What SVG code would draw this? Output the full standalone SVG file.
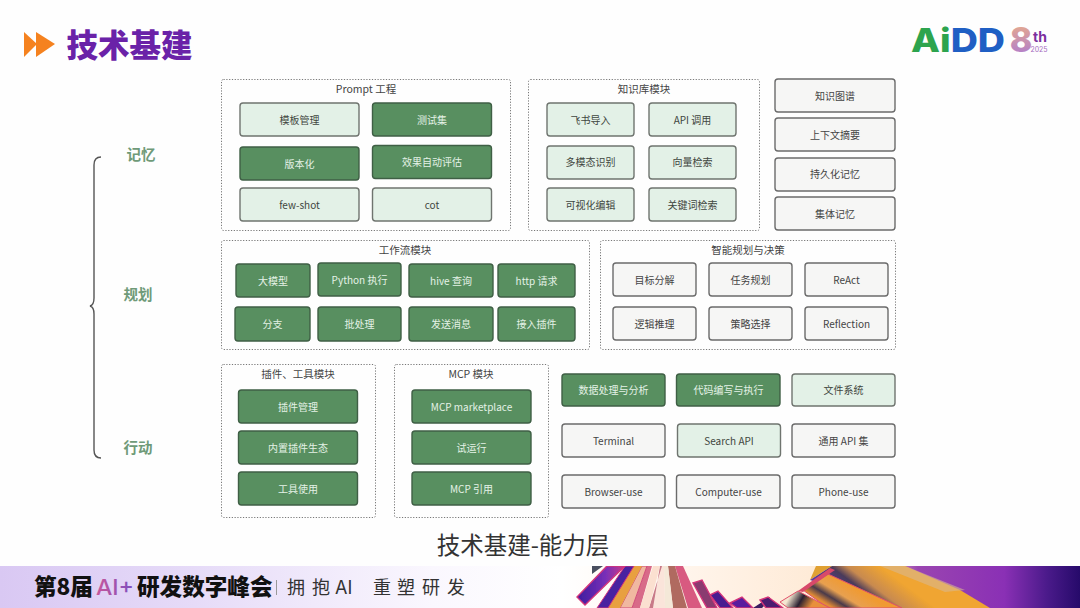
<svg xmlns="http://www.w3.org/2000/svg" width="1080" height="608" viewBox="0 0 1080 608">
<style>
text{font-family:"Noto Sans CJK SC","Noto Sans",sans-serif;text-anchor:middle}
.panel{fill:#fefefe;stroke:#777;stroke-width:1;stroke-dasharray:1.2 1.6}
.pt{font-size:10.500px;fill:#444}
.b rect{stroke-width:1.400}
.b text{font-size:10px}
.l rect{fill:#e3f1e7;stroke:#6f746f}
.l text{fill:#3f4640}
.d rect{fill:#588f60;stroke:#3f5f45}
.d text{fill:#e4f2e6}
.g rect{fill:#f6f6f5;stroke:#6b6b6b}
.g text{fill:#444}
.side{font-size:14.500px;font-weight:700;fill:#6f9a78}
.blade{stroke:#d4357a;stroke-width:1.400}
.ft{text-anchor:start;fill:#111;font-weight:900;font-size:22.600px}
</style>
<defs>
<linearGradient id="foot" x1="0" x2="1" y1="0" y2="0">
<stop offset="0" stop-color="#d9c8f3"/><stop offset=".18" stop-color="#e6dbf8"/><stop offset=".4" stop-color="#faf7fe"/><stop offset=".52" stop-color="#ffffff"/><stop offset=".7" stop-color="#ffefe0"/><stop offset=".8" stop-color="#fde7cf"/><stop offset=".85" stop-color="#9a45b0"/><stop offset=".93" stop-color="#8a30b5"/><stop offset=".97" stop-color="#4a1a8a"/><stop offset="1" stop-color="#260a6a"/>
</linearGradient>
<linearGradient id="aig" x1="0" x2="1"><stop offset="0" stop-color="#c9569a"/><stop offset="1" stop-color="#7c4fc0"/></linearGradient>
<linearGradient id="eight" x1="0" x2="0" y1="0" y2="1"><stop offset="0" stop-color="#eeb184"/><stop offset="1" stop-color="#a876d6"/></linearGradient>
<linearGradient id="bigo" gradientUnits="userSpaceOnUse" x1="835" y1="575" x2="815" y2="608"><stop offset="0" stop-color="#f09a30"/><stop offset=".35" stop-color="#e8a050"/><stop offset=".55" stop-color="#4a3a4a"/><stop offset=".75" stop-color="#e08a35"/><stop offset="1" stop-color="#f09a30"/></linearGradient>
<linearGradient id="topo" gradientUnits="userSpaceOnUse" x1="880" y1="566" x2="850" y2="606"><stop offset="0" stop-color="#f0a530"/><stop offset=".4" stop-color="#c88a50"/><stop offset=".6" stop-color="#4a3a5a"/><stop offset="1" stop-color="#5a3aa0"/></linearGradient>
<linearGradient id="purp" x1="0" x2="1" y1="0" y2="0"><stop offset="0" stop-color="#3c1c9e"/><stop offset=".6" stop-color="#7a2fb8"/><stop offset="1" stop-color="#c83a88"/></linearGradient>
<linearGradient id="cream" gradientUnits="userSpaceOnUse" x1="790" y1="596" x2="810" y2="608"><stop offset="0" stop-color="#f4e6d0"/><stop offset=".5" stop-color="#2a2030"/><stop offset="1" stop-color="#e8903a"/></linearGradient>
<clipPath id="footclip"><rect y="566" width="1080" height="42"/></clipPath>
<filter id="soft" x="-5%" y="-5%" width="110%" height="110%"><feGaussianBlur stdDeviation=".6"/></filter>
</defs>
<rect width="1080" height="608" fill="#fefefe"/>

<g id="title">
<polygon points="24,32 37,44 24,57" fill="#f5821f"/><polygon points="36,32 55,44 36,57" fill="#f5821f"/>
<text x="129.500" y="57" style="font-size:31.500px;font-weight:900;fill:#6a22a8">技术基建</text>
</g>
<g id="logo">
<text x="958" y="52" textLength="94" lengthAdjust="spacingAndGlyphs" style="font-family:Inter,sans-serif;font-size:33px;font-weight:800;fill:#1f5fc4"><tspan fill="#2da44e">Ai</tspan>DD</text>
<text x="1021" y="52" style="font-family:Inter,sans-serif;font-size:34px;font-weight:800;fill:url(#eight)">8</text>
<text x="1040" y="42" style="font-family:Inter,sans-serif;font-size:14px;font-weight:700;fill:#7b2f9e">th</text>
<text x="1039" y="52" style="font-family:Inter,sans-serif;font-size:7px;fill:#a66cc0">2025</text>
</g>

<g id="connectors">
<path d="M101 157Q94 157 94 165L94 298Q94 305 90 306Q94 307 94 314L94 450Q94 458 101 458" fill="none" stroke="#555" stroke-width="1.400"/>
</g>
<g id="side-labels">
<text class="side" x="141" y="160">记忆</text>
<text class="side" x="138" y="300">规划</text>
<text class="side" x="138" y="453">行动</text>
</g>

<g id="panel-prompt"><rect class="panel" x="221.500" y="79.500" width="289" height="151" rx="2"/><text class="pt" x="366" y="93">Prompt 工程</text></g>
<g id="n1" class="b l"><rect x="240" y="103" width="119" height="33" rx="3"/><text x="299.500" y="124">模板管理</text></g>
<g id="n2" class="b d"><rect x="372.500" y="103" width="119" height="33" rx="3"/><text x="432" y="124">测试集</text></g>
<g id="n3" class="b d"><rect x="240" y="147" width="119" height="33" rx="3"/><text x="299.500" y="168">版本化</text></g>
<g id="n4" class="b d"><rect x="372.500" y="145.500" width="119" height="33" rx="3"/><text x="432" y="166">效果自动评估</text></g>
<g id="n5" class="b l"><rect x="240" y="188" width="119" height="33" rx="3"/><text x="299.500" y="209">few-shot</text></g>
<g id="n6" class="b l"><rect x="372.500" y="188" width="119" height="33" rx="3"/><text x="432" y="209">cot</text></g>

<g id="panel-kb"><rect class="panel" x="528.500" y="79.500" width="231" height="151" rx="2"/><text class="pt" x="644" y="93">知识库模块</text></g>
<g id="n7" class="b l"><rect x="547" y="103" width="87" height="33" rx="3"/><text x="590.500" y="124">飞书导入</text></g>
<g id="n8" class="b l"><rect x="649" y="103" width="87" height="33" rx="3"/><text x="692.500" y="124">API 调用</text></g>
<g id="n9" class="b l"><rect x="547" y="146" width="87" height="33" rx="3"/><text x="590.500" y="166">多模态识别</text></g>
<g id="n10" class="b l"><rect x="649" y="146" width="87" height="33" rx="3"/><text x="692.500" y="166">向量检索</text></g>
<g id="n11" class="b l"><rect x="547" y="188" width="87" height="33" rx="3"/><text x="590.500" y="209">可视化编辑</text></g>
<g id="n12" class="b l"><rect x="649" y="188" width="87" height="33" rx="3"/><text x="692.500" y="209">关键词检索</text></g>

<g id="n13" class="b g"><rect x="775" y="79" width="120" height="33" rx="3"/><text x="835" y="100">知识图谱</text></g>
<g id="n14" class="b g"><rect x="775" y="118" width="120" height="33" rx="3"/><text x="835" y="139">上下文摘要</text></g>
<g id="n15" class="b g"><rect x="775" y="158" width="120" height="33" rx="3"/><text x="835" y="178">持久化记忆</text></g>
<g id="n16" class="b g"><rect x="775" y="197" width="120" height="33" rx="3"/><text x="835" y="218">集体记忆</text></g>

<g id="panel-workflow"><rect class="panel" x="221.500" y="240.500" width="368" height="109" rx="2"/><text class="pt" x="405" y="254">工作流模块</text></g>
<g id="n17" class="b d"><rect x="236" y="264" width="74" height="33" rx="3"/><text x="273" y="285">大模型</text></g>
<g id="n18" class="b d"><rect x="318" y="263" width="83" height="33" rx="3"/><text x="359.500" y="284">Python 执行</text></g>
<g id="n19" class="b d"><rect x="409" y="264" width="84" height="33" rx="3"/><text x="451" y="285">hive 查询</text></g>
<g id="n20" class="b d"><rect x="498" y="264" width="77" height="33" rx="3"/><text x="536.500" y="285">http 请求</text></g>
<g id="n21" class="b d"><rect x="235" y="307" width="75" height="34" rx="3"/><text x="272.500" y="328">分支</text></g>
<g id="n22" class="b d"><rect x="318" y="307" width="83" height="34" rx="3"/><text x="359.500" y="328">批处理</text></g>
<g id="n23" class="b d"><rect x="409" y="307" width="84" height="34" rx="3"/><text x="451" y="328">发送消息</text></g>
<g id="n24" class="b d"><rect x="498" y="307" width="77" height="34" rx="3"/><text x="536.500" y="328">接入插件</text></g>

<g id="panel-planning"><rect class="panel" x="600.500" y="240.500" width="295" height="109" rx="2"/><text class="pt" x="748" y="254">智能规划与决策</text></g>
<g id="n25" class="b g"><rect x="613" y="263" width="83" height="33" rx="3"/><text x="654.500" y="284">目标分解</text></g>
<g id="n26" class="b g"><rect x="709" y="263" width="83" height="33" rx="3"/><text x="750.500" y="284">任务规划</text></g>
<g id="n27" class="b g"><rect x="805" y="263" width="83" height="33" rx="3"/><text x="846.500" y="284">ReAct</text></g>
<g id="n28" class="b g"><rect x="613" y="307" width="83" height="33" rx="3"/><text x="654.500" y="328">逻辑推理</text></g>
<g id="n29" class="b g"><rect x="709" y="307" width="83" height="33" rx="3"/><text x="750.500" y="328">策略选择</text></g>
<g id="n30" class="b g"><rect x="805" y="307" width="83" height="33" rx="3"/><text x="846.500" y="328">Reflection</text></g>

<g id="panel-plugins"><rect class="panel" x="221.500" y="364.500" width="154" height="153" rx="2"/><text class="pt" x="298" y="378">插件、工具模块</text></g>
<g id="n31" class="b d"><rect x="238.500" y="390" width="119" height="33" rx="3"/><text x="298" y="411">插件管理</text></g>
<g id="n32" class="b d"><rect x="238.500" y="431" width="119" height="33" rx="3"/><text x="298" y="452">内置插件生态</text></g>
<g id="n33" class="b d"><rect x="238.500" y="472" width="119" height="33" rx="3"/><text x="298" y="493">工具使用</text></g>

<g id="panel-mcp"><rect class="panel" x="394.500" y="364.500" width="154" height="153" rx="2"/><text class="pt" x="471" y="378">MCP 模块</text></g>
<g id="n34" class="b d"><rect x="412" y="390" width="119" height="33" rx="3"/><text x="471.500" y="411">MCP marketplace</text></g>
<g id="n35" class="b d"><rect x="412" y="431" width="119" height="33" rx="3"/><text x="471.500" y="452">试运行</text></g>
<g id="n36" class="b d"><rect x="412" y="472" width="119" height="33" rx="3"/><text x="471.500" y="493">MCP 引用</text></g>

<g id="n37" class="b d"><rect x="562" y="374" width="103" height="32" rx="3"/><text x="613.500" y="394">数据处理与分析</text></g>
<g id="n38" class="b d"><rect x="676.500" y="374" width="103.500" height="32" rx="3"/><text x="728.500" y="394">代码编写与执行</text></g>
<g id="n39" class="b l"><rect x="792" y="374" width="103" height="32" rx="3"/><text x="843.500" y="394">文件系统</text></g>
<g id="n40" class="b g"><rect x="562" y="424" width="103" height="33" rx="3"/><text x="613.500" y="445">Terminal</text></g>
<g id="n41" class="b l"><rect x="677.500" y="424" width="103" height="33" rx="3"/><text x="729" y="445">Search API</text></g>
<g id="n42" class="b g"><rect x="792" y="424" width="103" height="33" rx="3"/><text x="843.500" y="445">通用 API 集</text></g>
<g id="n43" class="b g"><rect x="562" y="475" width="103" height="33" rx="3"/><text x="613.500" y="496">Browser-use</text></g>
<g id="n44" class="b g"><rect x="676.500" y="475" width="103.500" height="33" rx="3"/><text x="728.500" y="496">Computer-use</text></g>
<g id="n45" class="b g"><rect x="792" y="475" width="103" height="33" rx="3"/><text x="843.500" y="496">Phone-use</text></g>

<text id="caption" x="523" y="554" style="font-size:23.500px;fill:#333">技术基建-能力层</text>

<g id="footer">
<rect y="566" width="1080" height="42" fill="url(#foot)"/>
<g clip-path="url(#footclip)"><g filter="url(#soft)">
<polygon points="810,580 816,566 832,566" fill="#e0a030"/>
<polygon points="832,566 905,566 960,590 990,608 900,608 810,580" fill="url(#topo)"/>
<polygon points="905,566 965,590 945,592 880,566" fill="#d8b890" opacity=".6"/>
<polygon points="803,590 828,574 902,608 828,608" fill="url(#bigo)" stroke="#e0506a" stroke-width="1"/>
<polygon points="780,602 798,591 830,608 788,608" fill="url(#cream)" stroke="#e0506a" stroke-width="1"/>
<polygon points="798,591 830,568 835,570 803,592" fill="#d8486a"/>
<polygon points="753,608 770,597 770,600 762,608" fill="#3a1a60"/>
<polygon points="760,600 768,597 783,608 766,608" fill="#4a1a70" class="blade"/>
<polygon points="730,603 742,597 753,608 737,608" fill="#5a1e9e" class="blade"/>
<polygon points="710,595 718,591 733,608 720,608" fill="#4a1c90" class="blade"/>
<polygon points="693,583 702,580 717,608 707,608" fill="#8a3a70" class="blade"/>
<polygon points="683,566 675,566 688,608 702,608" fill="#d85a80"/>
<polygon points="675,566 668,566 673,608 687,608" fill="#b06a60"/>
<polygon points="668,566 664,566 665,608 673,608" fill="#f4e8d8"/>
<polygon points="660,566 664,566 665,608 653,608" fill="#fae4da"/>
<polygon points="662,566 660,566 653,608 649,608" fill="#c87a88"/>
<polygon points="652,566 647,566 632,608 640,608" fill="#d86a88"/>
<polygon points="653,566 660,566 649,608 640,608" fill="#fbe0d0"/>
<polygon points="642,566 647,566 632,608 620,608" fill="#f0b8a0" stroke="#d04a78"/>
<polygon points="632,566 642,566 620,608 606,608" fill="#e8a040"/>
<polygon points="625,566 634,566 608,608 597,608" fill="#4a20a0" stroke="#d4357a"/>
<polygon points="592,566 603,566 592,574" fill="#4a5060"/>
<polygon points="577,597 585,605 625,566 607,566" fill="url(#purp)" class="blade"/>
</g></g>
<text class="ft" x="34" y="595">第8届</text>
<text x="96" y="595" style="text-anchor:start;fill:url(#aig);font-family:Inter,sans-serif;font-weight:500;font-size:22px" textLength="38" lengthAdjust="spacingAndGlyphs">AI+</text>
<text class="ft" x="137" y="595">研发数字峰会</text>
<rect x="276" y="580" width="1" height="15" fill="#999"/>
<text x="287" y="594" style="text-anchor:start;fill:#333;font-size:18px;font-weight:400"><tspan x="287">拥</tspan><tspan x="312">抱</tspan><tspan x="335" style="font-family:Inter,sans-serif">AI</tspan><tspan x="373">重</tspan><tspan x="397">塑</tspan><tspan x="422">研</tspan><tspan x="447">发</tspan></text>
</g>
</svg>
